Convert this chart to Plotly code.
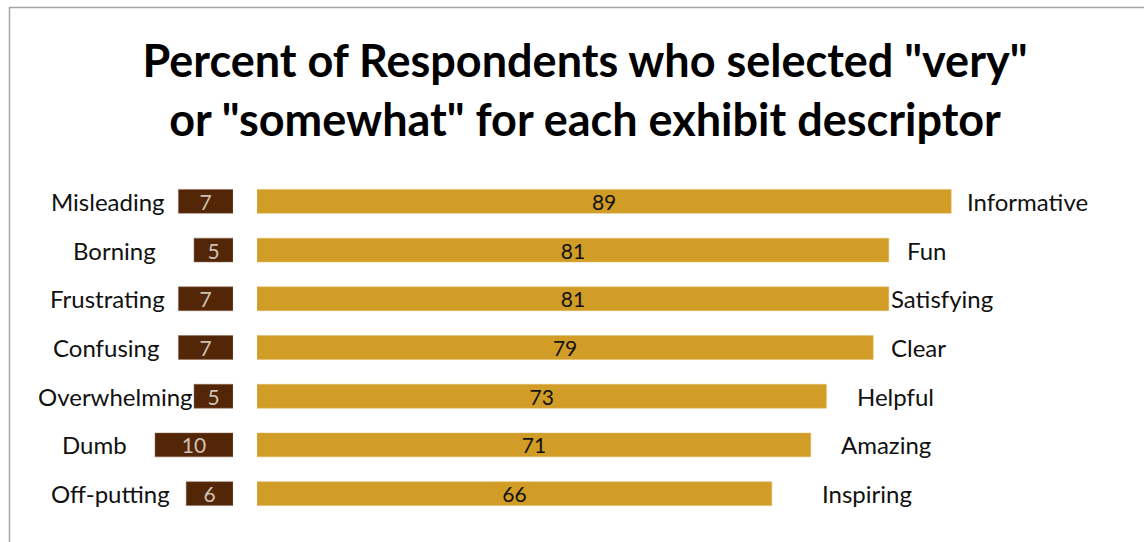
import plotly.graph_objects as go

# ---- data ----
positive_labels = ["Informative", "Fun", "Satisfying", "Clear", "Helpful", "Amazing", "Inspiring"]
positive_values = [89, 81, 81, 79, 73, 71, 66]
negative_labels = ["Misleading", "Borning", "Frustrating", "Confusing", "Overwhelming", "Dumb", "Off-putting"]
negative_values = [7, 5, 7, 7, 5, 10, 6]

title_text = 'Percent of Respondents who selected "very"<br>or "somewhat" for each exhibit descriptor'

# ---- layout / style ----
W, H = 1144, 542
T, B = 177, 24
PH = H - T - B
SCALE = 7.8            # px per percent
LEFT_ZERO = 233        # px where negative bars start
RIGHT_ZERO = 257       # px where positive bars start
FONT = "Lato, Calibri, Carlito, sans-serif"
GOLD = "#D29D27"
BROWN = "#542608"
# label anchor positions (px): left labels right-aligned, right labels left-aligned
left_label_edge = [167, 158, 167, 161, 195, 129, 172]
right_label_edge = [965, 905, 889, 889, 855, 839, 820]


def py(p):  # figure pixel y -> paper coordinate
    return (H - B - p) / PH


rows = positive_labels  # category key for each row

fig = go.Figure()
fig.add_trace(go.Bar(
    y=rows, x=negative_values, orientation="h", xaxis="x", yaxis="y",
    marker=dict(color=BROWN, line=dict(color="#8a6a50", width=0.5)),
    width=0.49, text=[str(v) for v in negative_values], textposition="inside",
    insidetextanchor="middle", textangle=0, constraintext="none",
    textfont=dict(family=FONT, size=21, color="#CFC2B5"), showlegend=False,
    hoverinfo="skip",
))
fig.add_trace(go.Bar(
    y=rows, x=positive_values, orientation="h", xaxis="x2", yaxis="y",
    marker=dict(color=GOLD, line=dict(color="#e0b860", width=0.5)),
    width=0.49, text=[str(v) for v in positive_values], textposition="inside",
    insidetextanchor="middle", textangle=0, constraintext="none",
    textfont=dict(family=FONT, size=21, color="#111111"), showlegend=False,
    hoverinfo="skip",
))

annotations = []
for lab, xe, r in zip(negative_labels, left_label_edge, rows):
    annotations.append(dict(text=lab, x=xe / W, xref="paper", y=r, yref="y",
                            xanchor="right", yanchor="middle", showarrow=False,
                            font=dict(family=FONT, size=24, color="#111111")))
for lab, xe, r in zip(positive_labels, right_label_edge, rows):
    annotations.append(dict(text=lab, x=xe / W, xref="paper", y=r, yref="y",
                            xanchor="left", yanchor="middle", showarrow=False,
                            font=dict(family=FONT, size=24, color="#111111")))

fig.update_layout(
    width=W, height=H,
    margin=dict(l=0, r=0, t=T, b=B),
    paper_bgcolor="white", plot_bgcolor="white",
    barmode="overlay",
    title=dict(text=title_text, x=585 / W, xanchor="center", xref="paper",
               y=1 - 77 / H, yanchor="middle", yref="container",
               font=dict(family=FONT, size=45, color="#000000", weight="bold")),
    xaxis=dict(domain=[0, LEFT_ZERO / W], range=[LEFT_ZERO / SCALE, 0],
               visible=False, fixedrange=True),
    xaxis2=dict(domain=[RIGHT_ZERO / W, 1], range=[0, (W - RIGHT_ZERO) / SCALE],
                visible=False, anchor="y", fixedrange=True),
    yaxis=dict(categoryorder="array", categoryarray=rows, autorange="reversed",
               visible=False, fixedrange=True),
    annotations=annotations,
    shapes=[dict(type="rect", xref="paper", yref="paper",
                 x0=9.5 / W, x1=1.05, y0=py(560), y1=py(7.5),
                 line=dict(color="#A6A6A6", width=1.5), layer="below")],
)

fig.write_html("out.html", config={"displayModeBar": False})
